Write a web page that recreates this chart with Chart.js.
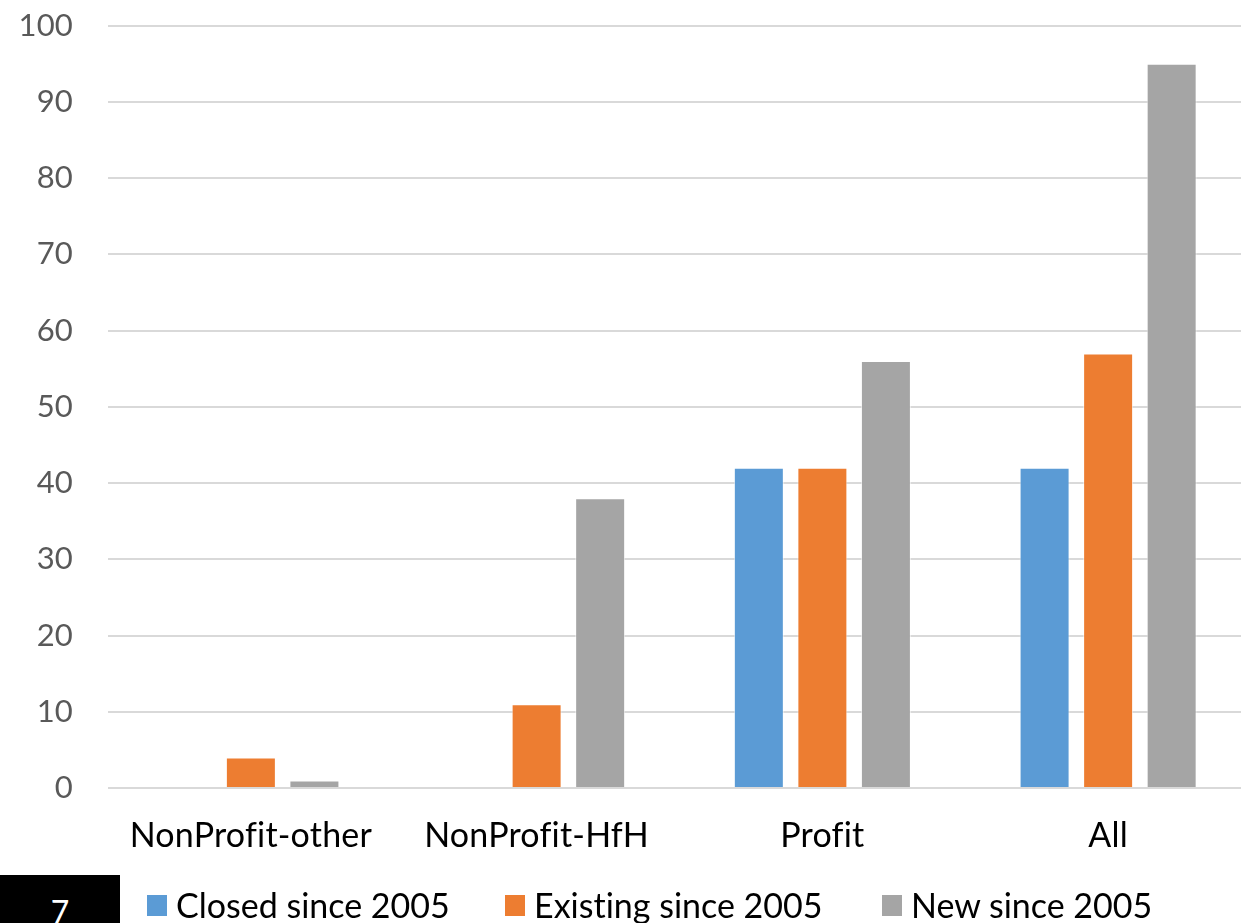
<!DOCTYPE html>
<html>
<head>
<meta charset="utf-8">
<script src="https://cdn.jsdelivr.net/npm/chart.js@4/dist/chart.umd.min.js"></script>
<style>
  html, body { margin: 0; padding: 0; background: #fff; overflow: hidden; }
  #stage { position: relative; width: 1241px; height: 923px; overflow: hidden; }
  #chart { position: absolute; left: 0; top: -28px; }
  .legend { position: absolute; top: 888px; font-family: Lato, sans-serif; font-size: 34px; color: #000; white-space: nowrap; line-height: 1; font-variant-ligatures: none; }
  .legend .sw { position: absolute; top: 7px; width: 20px; height: 21px; }
  .legend .tx { position: absolute; top: 0; }
  #slide-no { position: absolute; left: 0; top: 875px; width: 120px; height: 60px; background: #000; color: #fff;
              font-family: Lato, sans-serif; font-size: 32px; text-align: center; line-height: 1; padding-top: 21px; box-sizing: border-box; }
</style>
</head>
<body>
<div id="stage">
  <canvas id="chart" width="1251" height="951"></canvas>
  <div id="legend"></div>
  <div id="slide-no">7</div>
</div>
<script>
// Categories and series values
const categories = ['NonProfit-other', 'NonProfit-HfH', 'Profit', 'All'];
const closedSince2005 = [0, 0, 42, 42];
const existingSince2005 = [4, 11, 42, 57];
const newSince2005 = [1, 38, 56, 95];
const seriesNames = ['Closed since 2005', 'Existing since 2005', 'New since 2005'];
const seriesColors = ['#5B9BD5', '#ED7D31', '#A5A5A5'];
const yTicks = [0, 10, 20, 30, 40, 50, 60, 70, 80, 90, 100];

const seriesValues = [closedSince2005, existingSince2005, newSince2005];

const datasets = seriesNames.map((name, i) => ({
  label: name,
  data: seriesValues[i],
  backgroundColor: seriesColors[i],
  borderColor: 'rgba(255,255,255,0.6)',
  borderWidth: 1,
  categoryPercentage: 0.667,
  barPercentage: 0.787
}));

// Draw text without the "fi" ligature, as in the axis labels
const noLigatures = {
  id: 'noLigatures',
  beforeDraw(chart) { chart.ctx.letterSpacing = '0.2px'; }
};

const chart = new Chart(document.getElementById('chart'), {
  type: 'bar',
  data: { labels: categories, datasets },
  plugins: [noLigatures],
  options: {
    responsive: false,
    animation: false,
    devicePixelRatio: 1,
    layout: { padding: { top: 0, right: 0, left: 0, bottom: 0 } },
    plugins: { legend: { display: false }, tooltip: { enabled: false } },
    scales: {
      x: {
        grid: { display: false, drawTicks: false },
        border: { display: false },
        ticks: {
          color: '#000',
          font: { family: 'Lato', size: 34 },
          padding: 28,
          maxRotation: 0,
          autoSkip: false
        },
        afterFit(scale) { scale.height = 135; }
      },
      y: {
        min: 0,
        max: 100,
        afterBuildTicks(scale) { scale.ticks = yTicks.map(v => ({ value: v })); },
        grid: { color: '#D9D9D9', lineWidth: 2, drawTicks: false },
        border: { display: false },
        ticks: {
          color: '#595959',
          font: { family: 'Lato', size: 31 },
          padding: 35
        },
        afterFit(scale) { scale.width = 108; }
      }
    }
  }
});

// Legend built from the dataset names and colours
const legendPos = [147, 505, 882];
const legendEl = document.getElementById('legend');
seriesNames.forEach((name, i) => {
  const item = document.createElement('div');
  item.className = 'legend';
  item.style.left = legendPos[i] + 'px';
  const sw = document.createElement('span');
  sw.className = 'sw';
  sw.style.left = '0px';
  sw.style.background = seriesColors[i];
  const tx = document.createElement('span');
  tx.className = 'tx';
  tx.style.left = '29px';
  tx.textContent = name;
  item.appendChild(sw);
  item.appendChild(tx);
  legendEl.appendChild(item);
});
</script>
</body>
</html>
